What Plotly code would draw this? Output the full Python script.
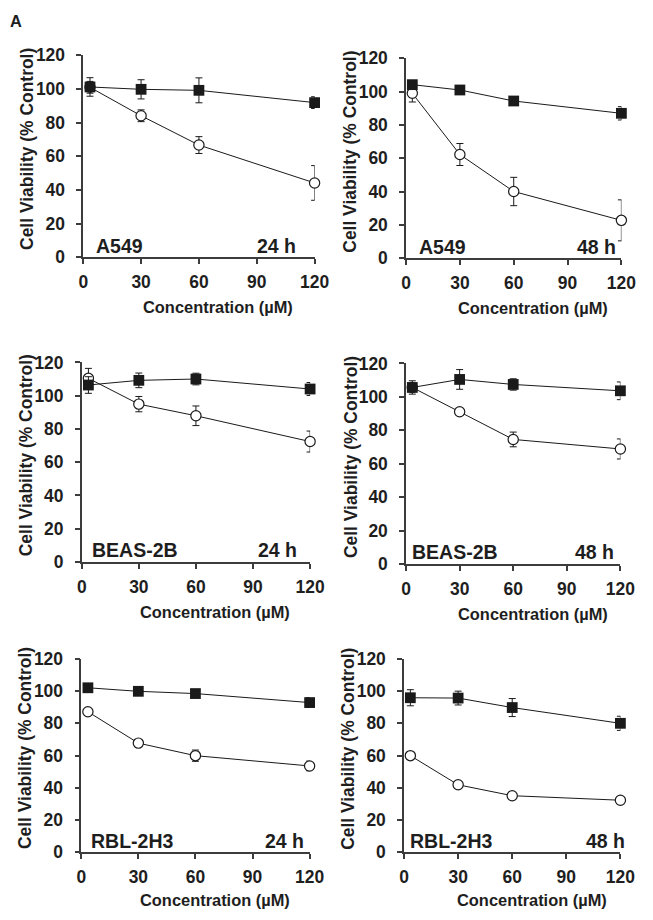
import plotly.graph_objects as go

# ---------------- data ----------------
conc = [3.5, 30, 60, 120]
x_ticks = [0, 30, 60, 90, 120]
y_ticks = [0, 20, 40, 60, 80, 100, 120]

cell_lines = ["A549", "A549", "BEAS-2B", "BEAS-2B", "RBL-2H3", "RBL-2H3"]
times = ["24 h", "48 h", "24 h", "48 h", "24 h", "48 h"]

a549_24_sq = [101.2, 99.8, 99.2, 91.9]
a549_24_sq_err = [5.5, 5.7, 7.4, 3.5]
a549_24_ci = [101.0, 84.1, 66.7, 44.2]
a549_24_ci_err = [3.5, 3.5, 5.0, 10.3]

a549_48_sq = [104.2, 101.0, 94.4, 87.0]
a549_48_sq_err = [2.0, 2.0, 2.0, 4.0]
a549_48_ci = [99.0, 62.3, 40.1, 22.8]
a549_48_ci_err = [5.2, 6.6, 8.5, 12.3]

beas_24_sq = [106.4, 109.2, 110.0, 104.0]
beas_24_sq_err = [5.0, 4.4, 3.5, 3.9]
beas_24_ci = [110.4, 94.9, 87.9, 72.4]
beas_24_ci_err = [6.0, 4.6, 5.9, 6.3]

beas_48_sq = [105.6, 110.4, 107.4, 103.6]
beas_48_sq_err = [4.0, 5.9, 3.4, 5.3]
beas_48_ci = [105.6, 91.1, 74.5, 68.8]
beas_48_ci_err = [2.0, 1.0, 4.4, 6.0]

rbl_24_sq = [102.1, 99.9, 98.5, 92.9]
rbl_24_sq_err = [2.0, 2.0, 2.0, 3.0]
rbl_24_ci = [87.2, 67.7, 59.9, 53.5]
rbl_24_ci_err = [1.0, 1.5, 3.5, 3.0]

rbl_48_sq = [95.9, 95.7, 89.8, 80.0]
rbl_48_sq_err = [5.0, 4.3, 5.6, 4.4]
rbl_48_ci = [59.9, 41.8, 35.0, 32.2]
rbl_48_ci_err = [1.0, 1.5, 1.0, 1.0]

squares = [a549_24_sq, a549_48_sq, beas_24_sq, beas_48_sq, rbl_24_sq, rbl_48_sq]
squares_err = [a549_24_sq_err, a549_48_sq_err, beas_24_sq_err, beas_48_sq_err, rbl_24_sq_err, rbl_48_sq_err]
circles = [a549_24_ci, a549_48_ci, beas_24_ci, beas_48_ci, rbl_24_ci, rbl_48_ci]
circles_err = [a549_24_ci_err, a549_48_ci_err, beas_24_ci_err, beas_48_ci_err, rbl_24_ci_err, rbl_48_ci_err]

x_title = "Concentration (µM)"
y_title = "Cell Viability (% Control)"

# ---------------- layout geometry ----------------
# Targets are given in pixels of the final 653x920 picture.  Empirically the
# photographed picture maps page pixels as
#   shot_x = 0.970 * page_x + 6.2 ,  shot_y = 0.978 * page_y + 8.2
# so target picture pixels are converted back to page (= figure) pixels.
SX, OX = 0.970, 6.2
SY, OY = 0.978, 8.2
W, H = 653, 920
K = 1 / ((SX + SY) / 2)   # size compensation for fonts / markers


def fx(t):
    return ((t - OX) / SX) / W


def fy(t):
    return 1 - ((t - OY) / SY) / H


# (left, right, top, bottom) of each panel's plot area, in picture pixels
panel_px = [
    (84.5, 316, 53.5, 255.5),
    (407.5, 623, 56.5, 256.5),
    (83, 311.5, 360.5, 560),
    (407.5, 622, 361.5, 562),
    (82.5, 311, 657, 850),
    (405.5, 622, 657, 850),
]
# cell line label left x, time label right x (fraction of the panel width)
label_pos = [
    (0.048, 0.93),
    (0.052, 0.985),
    (0.035, 0.95),
    (0.02, 0.98),
    (0.035, 0.985),
    (0.02, 1.03),
]
# vertical offset (picture px below the x axis) of the x-axis titles
x_title_gap = [50, 50, 50, 50, 48, 48]

FONT = "Liberation Sans, Arial, Helvetica, sans-serif"
TXT = "#1e1e1e"
AX = "#3c3c3c"
LINE = "#1a1a1a"

fig = go.Figure()
annotations = []
layout_axes = {}

for i in range(6):
    n = i + 1
    xa = "x" if n == 1 else f"x{n}"
    ya = "y" if n == 1 else f"y{n}"
    l, r, t, b = panel_px[i]
    xd = [fx(l), fx(r)]
    yd = [fy(b), fy(t)]

    fig.add_trace(go.Scatter(
        x=conc, y=circles[i], xaxis=xa, yaxis=ya, mode="lines+markers",
        line=dict(color=LINE, width=1),
        marker=dict(symbol="circle", size=10 * K, color="white", line=dict(color=LINE, width=1.2)),
        error_y=dict(type="data", array=circles_err[i], color=LINE, thickness=1, width=3.5),
        cliponaxis=False, showlegend=False,
    ))
    fig.add_trace(go.Scatter(
        x=conc, y=squares[i], xaxis=xa, yaxis=ya, mode="lines+markers",
        line=dict(color=LINE, width=1),
        marker=dict(symbol="square", size=10.5 * K, color=LINE, line=dict(color=LINE, width=0)),
        error_y=dict(type="data", array=squares_err[i], color=LINE, thickness=1, width=3.5),
        cliponaxis=False, showlegend=False,
    ))

    common = dict(
        showline=True, linecolor=AX, linewidth=1.5, ticks="outside", ticklen=5,
        tickwidth=1.5, tickcolor=AX, showgrid=False, zeroline=False,
        tickfont=dict(family=FONT, size=17 * K, color=TXT, weight="bold"),
        fixedrange=True,
    )
    layout_axes["xaxis" if n == 1 else f"xaxis{n}"] = dict(
        domain=xd, range=[0, 120], tickvals=x_ticks, anchor=ya,
        ticklabelstandoff=3, **common)
    layout_axes["yaxis" if n == 1 else f"yaxis{n}"] = dict(
        domain=yd, range=[0, 120], tickvals=y_ticks, anchor=xa,
        ticklabelstandoff=8, **common)

    xdom = "x domain" if n == 1 else f"x{n} domain"
    ydom = "y domain" if n == 1 else f"y{n} domain"
    lx, tx = label_pos[i]
    annotations.append(dict(
        text=cell_lines[i], xref=xdom, yref=ydom, x=lx, y=0.058,
        xanchor="left", yanchor="middle", showarrow=False,
        font=dict(family=FONT, size=19 * K, color=TXT, weight="bold")))
    annotations.append(dict(
        text=times[i], xref=xdom, yref=ydom, x=tx, y=0.058,
        xanchor="right", yanchor="middle", showarrow=False,
        font=dict(family=FONT, size=19 * K, color=TXT, weight="bold")))
    annotations.append(dict(
        text=x_title, xref="paper", yref="paper",
        x=fx((l + r) / 2 + 19.5), y=fy(b + x_title_gap[i]),
        xanchor="center", yanchor="middle", showarrow=False,
        font=dict(family=FONT, size=16 * K, color=TXT, weight="bold")))
    annotations.append(dict(
        text=y_title, xref="paper", yref="paper",
        x=fx(l - 55.7), y=fy((t + b) / 2 - 7),
        xanchor="center", yanchor="middle", textangle=-90, showarrow=False,
        font=dict(family=FONT, size=17 * K, color=TXT, weight="bold")))

annotations.append(dict(
    text="A", xref="paper", yref="paper", x=fx(17), y=fy(19.5),
    xanchor="center", yanchor="middle", showarrow=False,
    font=dict(family=FONT, size=16 * K, color=TXT, weight="bold")))

fig.update_layout(
    width=W, height=H,
    margin=dict(l=0, r=0, t=0, b=0),
    paper_bgcolor="white", plot_bgcolor="white",
    annotations=annotations,
    **layout_axes,
)

fig.write_html(
    "out.html",
    config={"displayModeBar": False},
    post_script="document.body.style.margin='0px';document.body.style.overflow='hidden';",
)
